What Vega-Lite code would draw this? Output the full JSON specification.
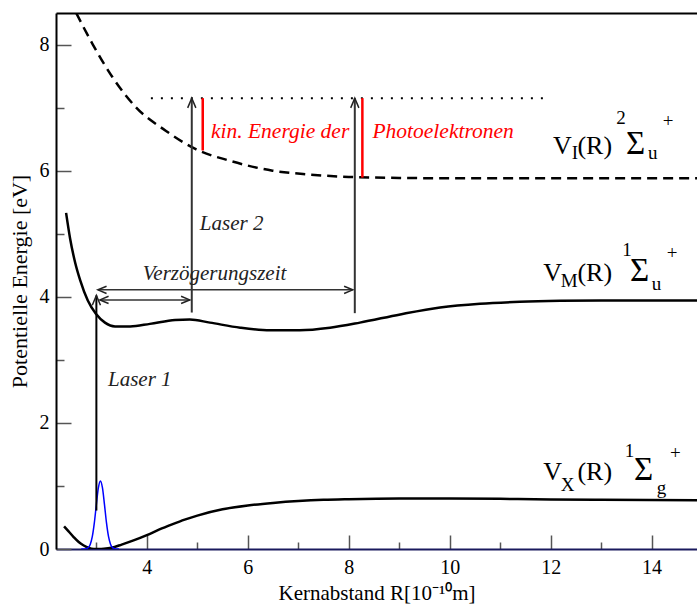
{
  "$schema": "https://vega.github.io/schema/vega-lite/v6.json",
  "width": 641,
  "height": 536,
  "autosize": "none",
  "padding": {"left": 56, "top": 13, "right": 0, "bottom": 57},
  "config": {"view": {"stroke": null}, "font": "Liberation Serif"},
  "datasets": {
    "vx": [
      {"x": 2.36, "y": 0.36}, {"x": 2.45, "y": 0.28}, {"x": 2.55, "y": 0.19}, {"x": 2.65, "y": 0.11},
      {"x": 2.75, "y": 0.055}, {"x": 2.85, "y": 0.018}, {"x": 2.95, "y": 0.002}, {"x": 3.05, "y": 0.0},
      {"x": 3.15, "y": 0.004}, {"x": 3.3, "y": 0.02}, {"x": 3.5, "y": 0.07}, {"x": 3.75, "y": 0.14},
      {"x": 4.0, "y": 0.22}, {"x": 4.25, "y": 0.31}, {"x": 4.5, "y": 0.39}, {"x": 4.75, "y": 0.465},
      {"x": 5.0, "y": 0.53}, {"x": 5.5, "y": 0.63}, {"x": 6.0, "y": 0.69}, {"x": 6.5, "y": 0.73},
      {"x": 7.0, "y": 0.76}, {"x": 7.5, "y": 0.78}, {"x": 8.0, "y": 0.79}, {"x": 9.0, "y": 0.8},
      {"x": 10.0, "y": 0.8}, {"x": 11.0, "y": 0.795}, {"x": 12.0, "y": 0.785}, {"x": 13.0, "y": 0.78},
      {"x": 14.9, "y": 0.775}
    ],
    "vm": [
      {"x": 2.4, "y": 5.33}, {"x": 2.48, "y": 4.92}, {"x": 2.58, "y": 4.54}, {"x": 2.68, "y": 4.26},
      {"x": 2.83, "y": 3.94}, {"x": 2.99, "y": 3.73}, {"x": 3.17, "y": 3.59}, {"x": 3.37, "y": 3.53},
      {"x": 3.67, "y": 3.53}, {"x": 4.06, "y": 3.57}, {"x": 4.56, "y": 3.63}, {"x": 4.85, "y": 3.64},
      {"x": 5.25, "y": 3.59}, {"x": 5.85, "y": 3.51}, {"x": 6.44, "y": 3.47}, {"x": 7.03, "y": 3.47},
      {"x": 7.63, "y": 3.51}, {"x": 8.22, "y": 3.59}, {"x": 9.02, "y": 3.72}, {"x": 9.81, "y": 3.83},
      {"x": 10.6, "y": 3.89}, {"x": 11.39, "y": 3.92}, {"x": 12.19, "y": 3.935}, {"x": 13.0, "y": 3.94},
      {"x": 14.9, "y": 3.94}
    ],
    "vi": [
      {"x": 2.6, "y": 8.5}, {"x": 2.93, "y": 8.0}, {"x": 3.32, "y": 7.48}, {"x": 3.79, "y": 7.0},
      {"x": 4.38, "y": 6.63}, {"x": 4.97, "y": 6.34}, {"x": 5.63, "y": 6.16}, {"x": 6.49, "y": 6.0},
      {"x": 7.2, "y": 5.94}, {"x": 8.0, "y": 5.9}, {"x": 9.0, "y": 5.885}, {"x": 10.0, "y": 5.88},
      {"x": 14.9, "y": 5.88}
    ],
    "gauss": [
      {"x": 2.7, "y": 0.0}, {"x": 2.76, "y": 0.001}, {"x": 2.8, "y": 0.006}, {"x": 2.84, "y": 0.024},
      {"x": 2.88, "y": 0.077}, {"x": 2.92, "y": 0.199}, {"x": 2.96, "y": 0.417}, {"x": 3.0, "y": 0.708},
      {"x": 3.04, "y": 0.972}, {"x": 3.08, "y": 1.08}, {"x": 3.12, "y": 0.972}, {"x": 3.16, "y": 0.708},
      {"x": 3.2, "y": 0.417}, {"x": 3.24, "y": 0.199}, {"x": 3.28, "y": 0.077}, {"x": 3.32, "y": 0.024},
      {"x": 3.36, "y": 0.006}, {"x": 3.4, "y": 0.001}, {"x": 3.45, "y": 0.0}
    ],
    "dotted": [{"x": 4.08, "y": 7.15}, {"x": 12.0, "y": 7.15}],
    "vlines": [{"x": 4.89, "y": 3.75, "y2": 7.15}, {"x": 8.12, "y": 3.74, "y2": 7.15}],
    "laser1": [{"x": 3.0, "y": 0.61, "y2": 4.02}],
    "hlines": [{"x": 3.03, "x2": 8.08, "y": 4.11}, {"x": 3.07, "x2": 4.85, "y": 3.95}],
    "red": [{"x": 5.107, "y": 6.32, "y2": 7.15}, {"x": 8.27, "y": 5.89, "y2": 7.15}],
    "headsUp": [{"x": 3.0, "y": 4.02}, {"x": 4.89, "y": 7.15}, {"x": 8.12, "y": 7.15}],
    "headsLeft": [{"x": 3.03, "y": 4.11}, {"x": 3.07, "y": 3.95}],
    "headsRight": [{"x": 8.08, "y": 4.11}, {"x": 4.85, "y": 3.95}],
    "notes": [
      {"x": 3.23, "y": 2.58, "t": "Laser 1"},
      {"x": 5.05, "y": 5.06, "t": "Laser 2"},
      {"x": 3.92, "y": 4.27, "t": "Verzögerungszeit"}
    ],
    "rednotes": [
      {"x": 5.27, "y": 6.52, "t": "kin. Energie der"},
      {"x": 8.47, "y": 6.52, "t": "Photoelektronen"}
    ],
    "big": [
      {"x": 12.048, "y": 6.27, "t": "V"}, {"x": 12.53, "y": 6.27, "t": "(R)"},
      {"x": 11.855, "y": 4.255, "t": "V"}, {"x": 12.53, "y": 4.255, "t": "(R)"},
      {"x": 11.855, "y": 1.094, "t": "V"}, {"x": 12.53, "y": 1.094, "t": "(R)"}
    ],
    "sigma": [
      {"x": 13.494, "y": 6.27, "t": "Σ"},
      {"x": 13.573, "y": 4.255, "t": "Σ"},
      {"x": 13.65, "y": 1.094, "t": "Σ"}
    ],
    "small": [
      {"x": 12.42, "y": 6.19, "t": "I"}, {"x": 13.3, "y": 6.74, "t": "2"},
      {"x": 13.93, "y": 6.19, "t": "u"}, {"x": 14.221, "y": 6.7, "t": "+"},
      {"x": 12.2, "y": 4.15, "t": "M"}, {"x": 13.42, "y": 4.65, "t": "1"},
      {"x": 14.003, "y": 4.1, "t": "u"}, {"x": 14.3, "y": 4.6, "t": "+"},
      {"x": 12.2, "y": 0.925, "t": "X"}, {"x": 13.47, "y": 1.453, "t": "1"},
      {"x": 14.102, "y": 0.877, "t": "g"}, {"x": 14.366, "y": 1.43, "t": "+"}
    ]
  },
  "resolve": {"axis": {"x": "independent", "y": "independent"}},
  "layer": [
    {
      "data": {"name": "vx"},
      "mark": {"type": "line", "color": "black", "strokeWidth": 2.5, "interpolate": "monotone", "clip": true},
      "encoding": {
        "x": {"field": "x", "type": "quantitative", "scale": {"domain": [2.2, 14.9], "nice": false, "zero": false},
          "axis": {"orient": "bottom", "values": [3, 4, 5, 6, 7, 8, 9, 10, 11, 12, 13, 14],
            "tickSize": {"condition": {"test": "datum.value % 2 === 0", "value": -14}, "value": -7},
            "labelExpr": "datum.value % 2 === 0 ? datum.label : ''",
            "tickColor": "#555555", "tickWidth": 1.5, "domainColor": "#1a1a5e", "domainWidth": 2,
            "labelFont": "Liberation Serif", "labelFontSize": 20, "labelColor": "black", "labelPadding": 22,
            "grid": false, "title": "Kernabstand R[10⁻¹⁰m]", "titleFont": "Liberation Serif",
            "titleFontSize": 21, "titleFontWeight": "normal", "titleColor": "black", "titlePadding": 5}},
        "y": {"field": "y", "type": "quantitative", "scale": {"domain": [0, 8.5], "nice": false, "zero": false},
          "axis": {"orient": "left", "values": [0, 1, 2, 3, 4, 5, 6, 7, 8],
            "tickSize": {"condition": {"test": "datum.value % 2 === 0", "value": -15}, "value": -8},
            "labelExpr": "datum.value % 2 === 0 ? datum.label : ''",
            "tickColor": "#555555", "tickWidth": 1.5, "domainColor": "black", "domainWidth": 2,
            "labelFont": "Liberation Serif", "labelFontSize": 20, "labelColor": "black", "labelPadding": 22,
            "grid": false, "title": "Potentielle Energie [eV]", "titleFont": "Liberation Serif",
            "titleFontSize": 22, "titleFontWeight": "normal", "titleColor": "black", "titlePadding": 8}}
      }
    },
    {
      "data": {"name": "vm"},
      "mark": {"type": "line", "color": "black", "strokeWidth": 2.5, "interpolate": "monotone", "clip": true},
      "encoding": {
        "x": {"field": "x", "type": "quantitative", "axis": null},
        "y": {"field": "y", "type": "quantitative", "axis": null}
      }
    },
    {
      "data": {"name": "vi"},
      "mark": {"type": "line", "color": "black", "strokeWidth": 2.5, "strokeDash": [10, 6], "interpolate": "monotone", "clip": true},
      "encoding": {
        "x": {"field": "x", "type": "quantitative",
          "axis": {"orient": "top", "ticks": false, "labels": false, "domain": true, "domainColor": "black", "domainWidth": 2, "grid": false, "title": null}},
        "y": {"field": "y", "type": "quantitative", "axis": null}
      }
    },
    {
      "data": {"name": "gauss"},
      "mark": {"type": "line", "color": "#0000ff", "strokeWidth": 1.5, "interpolate": "monotone", "clip": true},
      "encoding": {
        "x": {"field": "x", "type": "quantitative", "axis": null},
        "y": {"field": "y", "type": "quantitative", "axis": null}
      }
    },
    {
      "data": {"name": "dotted"},
      "mark": {"type": "line", "color": "black", "strokeWidth": 2, "strokeDash": [2, 8]},
      "encoding": {
        "x": {"field": "x", "type": "quantitative", "axis": null},
        "y": {"field": "y", "type": "quantitative", "axis": null}
      }
    },
    {
      "data": {"name": "vlines"},
      "mark": {"type": "rule", "color": "#333333", "strokeWidth": 2},
      "encoding": {
        "x": {"field": "x", "type": "quantitative", "axis": null},
        "y": {"field": "y", "type": "quantitative", "axis": null},
        "y2": {"field": "y2"}
      }
    },
    {
      "data": {"name": "laser1"},
      "mark": {"type": "rule", "color": "black", "strokeWidth": 2},
      "encoding": {
        "x": {"field": "x", "type": "quantitative", "axis": null},
        "y": {"field": "y", "type": "quantitative", "axis": null},
        "y2": {"field": "y2"}
      }
    },
    {
      "data": {"name": "hlines"},
      "mark": {"type": "rule", "color": "#333333", "strokeWidth": 1.5},
      "encoding": {
        "x": {"field": "x", "type": "quantitative", "axis": null},
        "x2": {"field": "x2"},
        "y": {"field": "y", "type": "quantitative", "axis": null}
      }
    },
    {
      "data": {"name": "red"},
      "mark": {"type": "rule", "color": "#ff0000", "strokeWidth": 2.5},
      "encoding": {
        "x": {"field": "x", "type": "quantitative", "axis": null},
        "y": {"field": "y", "type": "quantitative", "axis": null},
        "y2": {"field": "y2"}
      }
    },
    {
      "data": {"name": "headsUp"},
      "mark": {"type": "point", "shape": "M -0.42 1 L 0 0 L 0.42 1", "filled": false, "stroke": "#222222", "strokeWidth": 1.5, "size": 380, "opacity": 1},
      "encoding": {
        "x": {"field": "x", "type": "quantitative", "axis": null},
        "y": {"field": "y", "type": "quantitative", "axis": null}
      }
    },
    {
      "data": {"name": "headsLeft"},
      "mark": {"type": "point", "shape": "M -0.42 1 L 0 0 L 0.42 1", "angle": 270, "filled": false, "stroke": "#222222", "strokeWidth": 1.5, "size": 300, "opacity": 1},
      "encoding": {
        "x": {"field": "x", "type": "quantitative", "axis": null},
        "y": {"field": "y", "type": "quantitative", "axis": null}
      }
    },
    {
      "data": {"name": "headsRight"},
      "mark": {"type": "point", "shape": "M -0.42 1 L 0 0 L 0.42 1", "angle": 90, "filled": false, "stroke": "#222222", "strokeWidth": 1.5, "size": 300, "opacity": 1},
      "encoding": {
        "x": {"field": "x", "type": "quantitative", "axis": null},
        "y": {"field": "y", "type": "quantitative", "axis": null}
      }
    },
    {
      "data": {"name": "notes"},
      "mark": {"type": "text", "font": "Liberation Serif", "fontStyle": "italic", "fontSize": 21, "color": "#222222", "align": "left", "baseline": "alphabetic"},
      "encoding": {
        "x": {"field": "x", "type": "quantitative", "axis": null},
        "y": {"field": "y", "type": "quantitative", "axis": null},
        "text": {"field": "t"}
      }
    },
    {
      "data": {"name": "rednotes"},
      "mark": {"type": "text", "font": "Liberation Serif", "fontStyle": "italic", "fontSize": 21.5, "color": "#ff0000", "align": "left", "baseline": "alphabetic"},
      "encoding": {
        "x": {"field": "x", "type": "quantitative", "axis": null},
        "y": {"field": "y", "type": "quantitative", "axis": null},
        "text": {"field": "t"}
      }
    },
    {
      "data": {"name": "big"},
      "mark": {"type": "text", "font": "Liberation Serif", "fontSize": 26, "color": "black", "align": "left", "baseline": "alphabetic"},
      "encoding": {
        "x": {"field": "x", "type": "quantitative", "axis": null},
        "y": {"field": "y", "type": "quantitative", "axis": null},
        "text": {"field": "t"}
      }
    },
    {
      "data": {"name": "sigma"},
      "mark": {"type": "text", "font": "Liberation Serif", "fontSize": 33, "color": "black", "align": "left", "baseline": "alphabetic"},
      "encoding": {
        "x": {"field": "x", "type": "quantitative", "axis": null},
        "y": {"field": "y", "type": "quantitative", "axis": null},
        "text": {"field": "t"}
      }
    },
    {
      "data": {"name": "small"},
      "mark": {"type": "text", "font": "Liberation Serif", "fontSize": 19, "color": "black", "align": "left", "baseline": "alphabetic"},
      "encoding": {
        "x": {"field": "x", "type": "quantitative", "axis": null},
        "y": {"field": "y", "type": "quantitative", "axis": null},
        "text": {"field": "t"}
      }
    }
  ]
}
